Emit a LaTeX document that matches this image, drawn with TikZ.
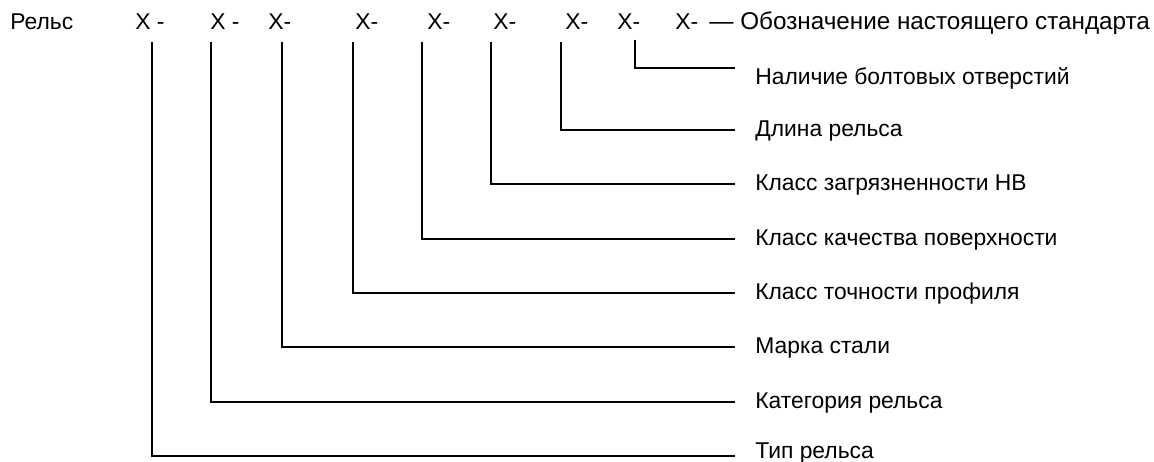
\documentclass[tikz,border=0pt]{standalone}
\usepackage{fontspec}
\setmainfont{Liberation Sans}
\usepackage{tikz}

\begin{document}
\begin{tikzpicture}[
  testo/.style={anchor=west, inner sep=0pt, text height=0.72em, text depth=0pt,
    font=\fontsize{13pt}{15pt}\selectfont},
  linea/.style={line width=0.8pt}
]
\useasboundingbox (0,0) rectangle (23.08,-9.24);

% Designazione
\node[testo] (rels) at (0.20,-0.46) {Рельс};
\node[testo] (x1) at (2.70,-0.46) {X -};
\node[testo] (x2) at (4.20,-0.46) {X -};
\node[testo] (x3) at (5.36,-0.46) {X-};
\node[testo] (x4) at (7.10,-0.46) {X-};
\node[testo] (x5) at (8.54,-0.46) {X-};
\node[testo] (x6) at (9.86,-0.46) {X-};
\node[testo] (x7) at (11.30,-0.46) {X-};
\node[testo] (x8) at (12.34,-0.46) {X-};
\node[testo] (x9) at (13.50,-0.46) {X-};
\node[testo,font=\fontsize{13.8pt}{16pt}\selectfont] (std) at (14.18,-0.46)
  {— Обозначение настоящего стандарта};

% Etichette
\node[testo] (l8) at (15.10,-1.56) {Наличие болтовых отверстий};
\node[testo] (l7) at (15.10,-2.60) {Длина рельса};
\node[testo] (l6) at (15.10,-3.68) {Класс загрязненности НВ};
\node[testo] (l5) at (15.10,-4.78) {Класс качества поверхности};
\node[testo] (l4) at (15.10,-5.86) {Класс точности профиля};
\node[testo] (l3) at (15.10,-6.94) {Марка стали};
\node[testo] (l2) at (15.10,-8.04) {Категория рельса};
\node[testo] (l1) at (15.10,-9.04) {Тип рельса};

% Punti di partenza delle linee
\coordinate (t1) at (3.04,-0.84);
\coordinate (t2) at (4.22,-0.84);
\coordinate (t3) at (5.64,-0.84);
\coordinate (t4) at (7.06,-0.84);
\coordinate (t5) at (8.44,-0.84);
\coordinate (t6) at (9.82,-0.84);
\coordinate (t7) at (11.22,-0.84);
\coordinate (t8) at (12.70,-0.80);

% Linee
\draw[linea] (t1) |- ([xshift=-4mm,yshift=-0.8mm]l1.west);
\draw[linea] (t2) |- ([xshift=-4mm]l2.west);
\draw[linea] (t3) |- ([xshift=-4mm]l3.west);
\draw[linea] (t4) |- ([xshift=-4mm]l4.west);
\draw[linea] (t5) |- ([xshift=-4mm]l5.west);
\draw[linea] (t6) |- ([xshift=-4mm]l6.west);
\draw[linea] (t7) |- ([xshift=-4mm]l7.west);
\draw[linea] (t8) |- ([xshift=-4mm,yshift=2mm]l8.west);
\end{tikzpicture}
\end{document}
